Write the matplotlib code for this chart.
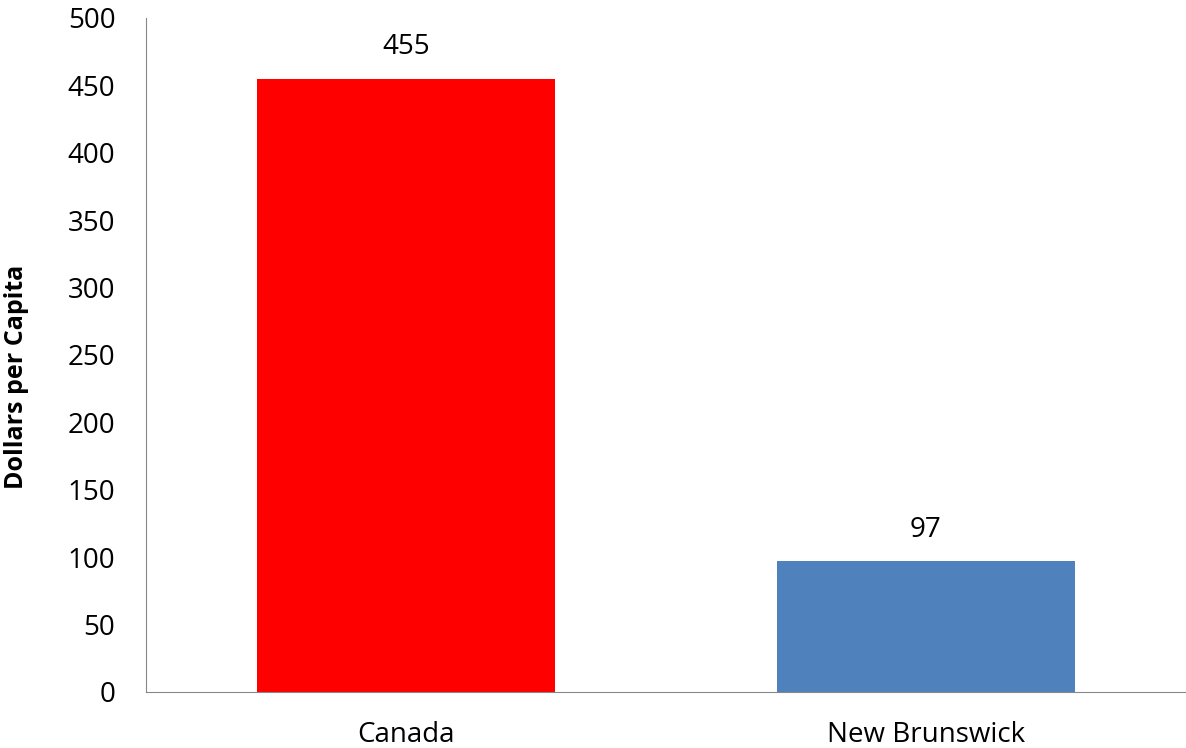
import matplotlib.pyplot as plt

plt.rcParams['font.family'] = ['Open Sans', 'DejaVu Sans']

regions = ["Canada", "New Brunswick"]
values = [455, 97]
bar_colors = ["#FF0000", "#4F81BD"]
y_ticks = [0, 50, 100, 150, 200, 250, 300, 350, 400, 450, 500]

fig = plt.figure(figsize=(11.86, 7.48), dpi=100)
ax = fig.add_axes([0.123, 0.075, 0.877, 0.901])

x = range(len(regions))
bars = ax.bar(x, values, width=0.572, color=bar_colors)
for xi, v in zip(x, values):
    ax.text(xi, v + 13, f"{v}", ha="center", va="bottom", fontsize=20)

ax.set_xlim(-0.5, 1.5)
ax.set_ylim(0, 500)
ax.set_yticks(y_ticks)
ax.set_xticks(list(x))
ax.set_xticklabels(regions, fontsize=20)
ax.tick_params(axis="y", labelsize=20, length=0, pad=22)
ax.tick_params(axis="x", length=0, pad=21)
ax.set_ylabel("Dollars per Capita", fontsize=18, fontweight="bold")
ax.yaxis.set_label_coords(-0.112, 0.467)

for s in ["top", "right"]:
    ax.spines[s].set_visible(False)
for s in ["left", "bottom"]:
    ax.spines[s].set_color("#888888")

fig.savefig("out.png", dpi=100)
